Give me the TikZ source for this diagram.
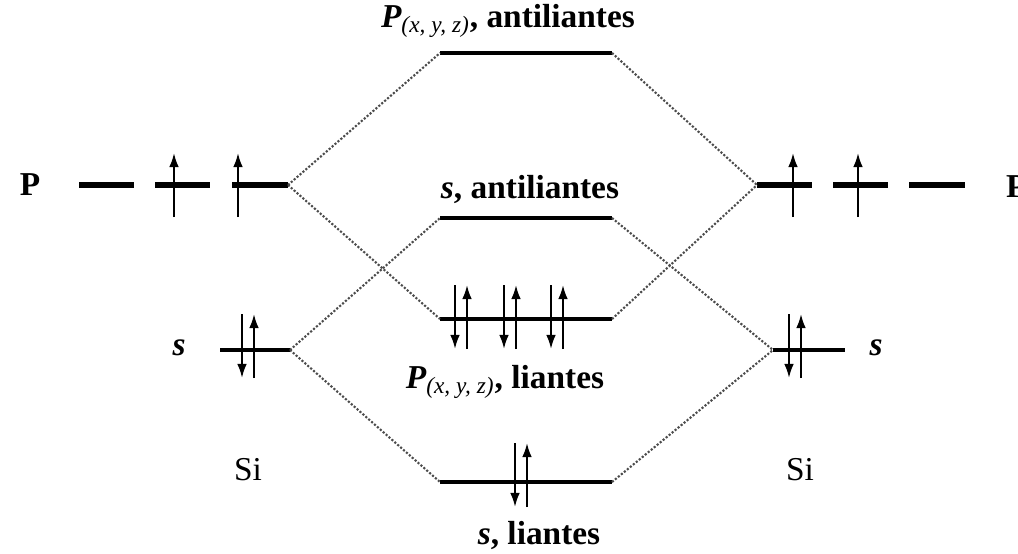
\documentclass[tikz,border=0pt]{standalone}
\usepackage{fontspec}
\setmainfont{Liberation Serif}
\usetikzlibrary{arrows.meta}

\tikzset{
  aolevel/.style={line width=3pt},
  molevel/.style={line width=2.4pt},
  link/.style={densely dotted, line width=1.2pt, black!70},
  spin/.style={line width=1.2pt, -{Latex[length=8pt,width=5.5pt]}},
  lbl/.style={font=\fontsize{19}{22}\selectfont\bfseries, inner sep=1pt},
  atom/.style={font=\fontsize{19}{22}\selectfont, inner sep=1pt}
}
\newcommand{\eup}[2]{\draw [spin] (#1,#2+32) -- (#1,#2-32);}
\newcommand{\edown}[2]{\draw [spin] (#1,#2-32) -- (#1,#2+32);}
\newcommand{\epair}[2]{\edown{#1-6}{#2} \eup{#1+6}{#2}}
\newcommand{\Pxyz}{{\itshape P}\textsubscript{\itshape\mdseries (x, y, z)}}

\begin{document}
\begin{tikzpicture}[x=0.02cm, y=-0.02cm]
    \useasboundingbox (0,0) rectangle (1018,554);

    % atomic levels, left
    \coordinate (pL1a) at (79,185);  \coordinate (pL1b) at (134,185);
    \coordinate (pL2a) at (155,185); \coordinate (pL2b) at (210,185);
    \coordinate (pL3a) at (232,185); \coordinate (pL3b) at (288,185);
    \coordinate (sLa) at (220,350);  \coordinate (sLb) at (290,350);
    % atomic levels, right
    \coordinate (pR1a) at (757,185); \coordinate (pR1b) at (812,185);
    \coordinate (pR2a) at (833,185); \coordinate (pR2b) at (888,185);
    \coordinate (pR3a) at (909,185); \coordinate (pR3b) at (965,185);
    \coordinate (sRa) at (773,350);  \coordinate (sRb) at (845,350);
    % molecular levels
    \coordinate (pantia) at (440,53);  \coordinate (pantib) at (612,53);
    \coordinate (santia) at (440,218); \coordinate (santib) at (612,218);
    \coordinate (plia) at (440,319);   \coordinate (plib) at (612,319);
    \coordinate (slia) at (440,482);   \coordinate (slib) at (612,482);

    \draw [aolevel] (pL1a) -- (pL1b);
    \draw [aolevel] (pL2a) -- (pL2b);
    \draw [aolevel] (pL3a) -- (pL3b);
    \draw [aolevel] (pR1a) -- (pR1b);
    \draw [aolevel] (pR2a) -- (pR2b);
    \draw [aolevel] (pR3a) -- (pR3b);
    \draw [molevel] (sLa) -- (sLb);
    \draw [molevel] (sRa) -- (sRb);
    \draw [molevel] (pantia) -- (pantib);
    \draw [molevel] (santia) -- (santib);
    \draw [molevel] (plia) -- (plib);
    \draw [molevel] (slia) -- (slib);

    % correlation lines
    \draw [link] (pL3b) -- (pantia);
    \draw [link] (pL3b) -- (plia);
    \draw [link] (sLb) -- (santia);
    \draw [link] (sLb) -- (slia);
    \draw [link] (pantib) -- (pR1a);
    \draw [link] (plib) -- (pR1a);
    \draw [link] (santib) -- (sRa);
    \draw [link] (slib) -- (sRa);

    % electrons
    \eup{174}{185} \eup{238}{185}
    \eup{793}{185} \eup{858}{185}
    \epair{248}{346} \epair{795}{346}
    \epair{461}{317} \epair{510}{317} \epair{557}{317}
    \epair{521}{475}

    % labels
    \node [lbl] (pleft) at (30,185) {P};
    \node [lbl, anchor=west] (pright) at (1004,187) {P};
    \node [lbl] (sleft) at (179,348) {\itshape s};
    \node [lbl] (sright) at (876,348) {\itshape s};
    \node [atom] (sileft) at (248,470) {Si};
    \node [atom] (siright) at (800,470) {Si};
    \node [lbl] (tpanti) at (508,21) {\Pxyz, antiliantes};
    \node [lbl] (tsanti) at (530,190) {\itshape s\upshape, antiliantes};
    \node [lbl] (tpli) at (505,382) {\Pxyz, liantes};
    \node [lbl] (tsli) at (539,535) {\itshape s\upshape, liantes};
\end{tikzpicture}
\end{document}
